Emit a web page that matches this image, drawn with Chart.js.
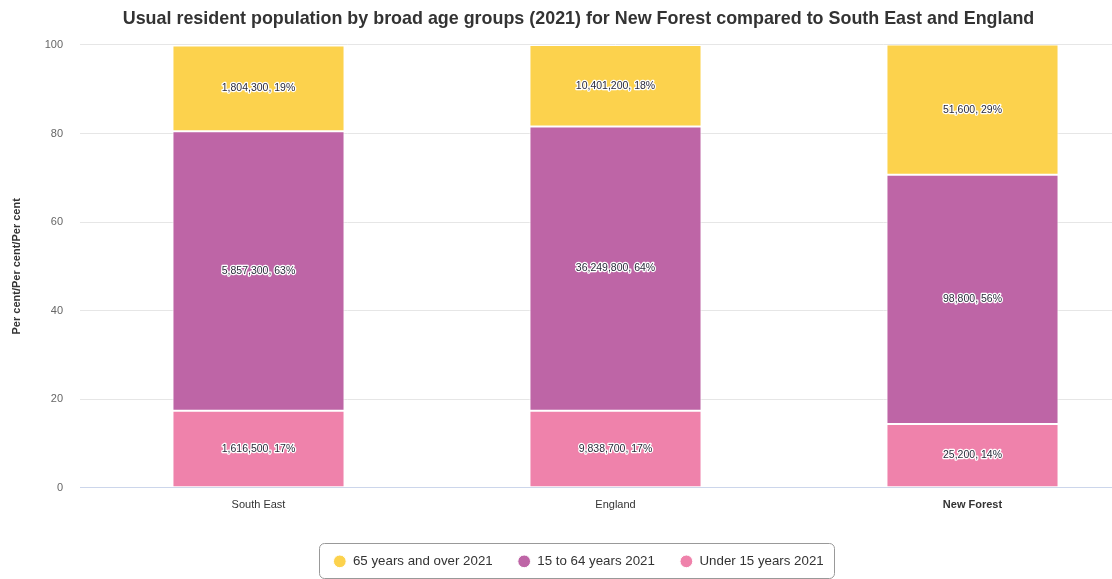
<!DOCTYPE html>
<html><head><meta charset="utf-8">
<script src="https://cdn.jsdelivr.net/npm/chart.js@4/dist/chart.umd.min.js"></script>
<style>html,body{margin:0;padding:0;background:#fff;overflow:hidden}#wrap{width:1112px;height:579px;overflow:hidden;position:relative}#c{position:absolute;left:0;top:0}</style>
</head><body><div id="wrap"><canvas id="c" width="1160" height="579"></canvas></div>
<script>
const categories = ['South East', 'England', 'New Forest'];
const seriesNames = ['Under 15 years 2021', '15 to 64 years 2021', '65 years and over 2021'];
const under15Pct = [17.4, 17.4, 14.4];
const age15to64Pct = [63.1, 64.2, 56.3];
const over65Pct = [19.4, 18.4, 29.4];
const under15Count = [1616500, 9838700, 25200];
const age15to64Count = [5857300, 36249800, 98800];
const over65Count = [1804300, 10401200, 51600];
const yTicks = [0, 20, 40, 60, 80, 100];

const FONT = '"Liberation Sans", Arial, sans-serif';
const colors = ['#EF82AB', '#BE65A6', '#FCD24D'];
const counts = [under15Count, age15to64Count, over65Count];
const pcts = [under15Pct, age15to64Pct, over65Pct];

function fmt(n){ return String(n).replace(/\B(?=(\d{3})+(?!\d))/g, ','); }

const labelPlugin = {
  id: 'barLabels',
  afterDatasetsDraw(chart){
    const ctx = chart.ctx;
    ctx.save();
    ctx.font = '10.5px ' + FONT;
    ctx.textAlign = 'center';
    ctx.textBaseline = 'middle';
    ctx.lineJoin = 'round';
    chart.data.datasets.forEach((ds, di) => {
      const meta = chart.getDatasetMeta(di);
      meta.data.forEach((bar, i) => {
        const t = fmt(counts[di][i]) + ', ' + Math.round(ds.data[i]) + '%';
        const y = (bar.y + bar.base) / 2;
        ctx.lineWidth = 2.5; ctx.strokeStyle = '#ffffff';
        ctx.strokeText(t, bar.x, y);
        ctx.fillStyle = '#2a2a3a';
        ctx.fillText(t, bar.x, y);
      });
    });
    ctx.restore();
  }
};

const legendBox = {
  id: 'legendBox',
  afterDraw(chart){
    const lg = chart.legend; if (!lg || !lg.legendHitBoxes) return;
    const hb = lg.legendHitBoxes;
    const l = Math.min(...hb.map(h => h.left)) - 14;
    const r = Math.max(...hb.map(h => h.left + h.width)) + 11;
    const cy = hb[0].top + hb[0].height / 2;
    const t = Math.round(cy - 18) + 0.5, b = Math.round(cy + 18) - 0.5;
    const ctx = chart.ctx;
    ctx.save();
    ctx.strokeStyle = '#999'; ctx.lineWidth = 1;
    ctx.beginPath();
    ctx.roundRect(Math.round(l) + 0.5, t, Math.round(r - l), b - t, 5);
    ctx.stroke();
    ctx.restore();
  }
};

new Chart(document.getElementById('c'), {
  type: 'bar',
  data: {
    labels: categories,
    datasets: pcts.map((p, i) => ({
      label: seriesNames[i], data: p, backgroundColor: colors[i],
      borderColor: '#ffffff', borderWidth: 1, borderSkipped: false,
      categoryPercentage: 1, barPercentage: 0.482
    }))
  },
  options: {
    responsive: false, animation: false, devicePixelRatio: 1,
    layout: { padding: { left: 6, right: 9, top: 0, bottom: 1 } },
    scales: {
      x: {
        stacked: true,
        grid: { display: false, drawTicks: false },
        border: { display: true, color: '#ccd6eb', width: 1 },
        ticks: { padding: 11, color: '#333',
          font: (c) => ({ family: FONT, size: 11, weight: c.index === 2 ? 'bold' : 'normal' }) },
        afterFit(s){ s.height = 42; }
      },
      y: {
        stacked: true, min: 0, max: 100,
        afterBuildTicks(s){ s.ticks = yTicks.map(v => ({ value: v })); },
        grid: { color: '#e6e6e6', drawTicks: false },
        border: { display: false },
        ticks: { padding: 17, color: '#666', font: { family: FONT, size: 11 } },
        title: { display: true, text: 'Per cent/Per cent/Per cent', color: '#333',
          font: { family: FONT, size: 11, weight: 'bold' }, padding: { top: 4, bottom: 0 } },
        afterFit(s){ s.width = 74; }
      }
    },
    plugins: {
      title: { display: true, text: 'Usual resident population by broad age groups (2021) for New Forest compared to South East and England',
        color: '#333', font: { family: FONT, size: 17.9, weight: 'bold' }, padding: { top: 8, bottom: 15.5 } },
      legend: { position: 'bottom', reverse: true,
        labels: { usePointStyle: true, pointStyle: 'circle', boxWidth: 13, boxHeight: 9, padding: 25,
          color: '#333', font: { family: FONT, size: 13.3 } } },
      tooltip: { enabled: false }
    }
  },
  plugins: [labelPlugin, legendBox]
});
</script></body></html>
